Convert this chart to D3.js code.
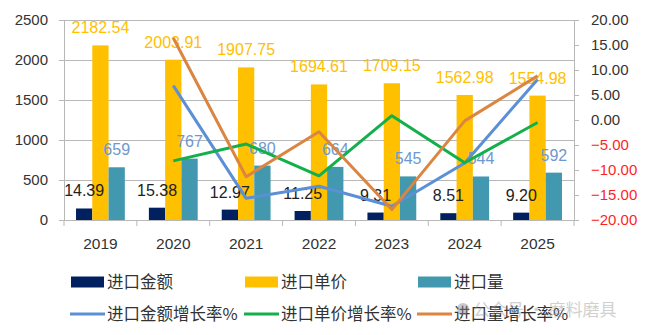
<!DOCTYPE html>
<html>
<head>
<meta charset="utf-8">
<script src="https://cdn.jsdelivr.net/npm/d3@7"></script>
<style>
  body { margin: 0; background: #fff; }
  svg { display: block; }
  text { font-family: "Liberation Sans", Arial, sans-serif; }
  .cjk { font-family: "Noto Sans CJK SC", sans-serif; }
</style>
</head>
<body>
<svg id="chart" width="647" height="335"></svg>
<script>
// data
const years = ['2019', '2020', '2021', '2022', '2023', '2024', '2025']
const amount = [14.39, 15.38, 12.97, 11.25, 9.31, 8.51, 9.20]
const unitPrice = [2182.54, 2003.91, 1907.75, 1694.61, 1709.15, 1562.98, 1554.98]
const volume = [659, 767, 680, 664, 545, 544, 592]
const amountGrowth = [null, 6.88, -15.67, -13.26, -17.24, -8.59, 8.11]
const priceGrowth = [null, -8.18, -4.80, -11.17, 0.86, -8.55, -0.51]
const volumeGrowth = [null, 16.39, -11.34, -2.35, -17.92, -0.18, 8.82]
const leftTicks = [0, 500, 1000, 1500, 2000, 2500]
const rightTicks = [-20, -15, -10, -5, 0, 5, 10, 15, 20]

// amount bars are drawn at 10x on the left axis
const AMOUNT_FACTOR = 10

const plot = {left: 64, right: 574, top: 20, bottom: 220}
const svg = d3.select('#chart')

const x0 = d3.scaleBand().domain(years).range([plot.left, plot.right])
  .paddingInner(0.33).paddingOuter(0.165)
const barKeys = ['amount', 'price', 'volume']
const x1 = d3.scaleBand().domain(barKeys).range([0, x0.bandwidth()])
const yL = d3.scaleLinear().domain([0, 2500]).range([plot.bottom, plot.top])
const yR = d3.scaleLinear().domain([-20, 20]).range([plot.bottom, plot.top])
const cx = (y) => x0(y) + x0.bandwidth() / 2

const GRID = '#b8b8b8'

// left axis + gridlines
const gl = svg.append('g')
  .attr('transform', `translate(${plot.left},0)`)
  .call(d3.axisLeft(yL).tickValues(leftTicks).tickFormat(d3.format('d'))
    .tickSizeInner(5).tickSizeOuter(0).tickPadding(11))
gl.select('.domain').attr('stroke', GRID)
gl.selectAll('.tick line').attr('stroke', GRID).attr('x2', plot.right - plot.left)
gl.selectAll('.tick line').attr('x1', -5)
gl.selectAll('text').attr('font-size', 15).attr('fill', '#333')

// right axis
const gr = svg.append('g')
  .attr('transform', `translate(${plot.right},0)`)
  .call(d3.axisRight(yR).tickValues(rightTicks).tickSizeInner(5).tickSizeOuter(0).tickPadding(12)
    .tickFormat(d3.format('.2f')))
gr.select('.domain').attr('stroke', GRID)
gr.selectAll('.tick line').attr('stroke', GRID)
gr.selectAll('text').attr('font-size', 15)
  .attr('fill', d => d < 0 ? '#ff1f1f' : '#333')

// bottom axis
const gb = svg.append('g')
  .attr('transform', `translate(0,${plot.bottom})`)
  .call(d3.axisBottom(x0).tickSize(0).tickPadding(0))
gb.select('.domain').attr('stroke', GRID)
gb.selectAll('text').attr('font-size', 15.5).attr('fill', '#333')
  .attr('dy', null).attr('y', 28.5)
// category boundary ticks
const bounds = years.map(y => x0(y) - x0.step() * x0.paddingInner() / 2)
bounds.push(plot.right)
gb.selectAll('line.sep').data(bounds).enter().append('line')
  .attr('class', 'sep')
  .attr('x1', d => d).attr('x2', d => d)
  .attr('y1', 0).attr('y2', 6)
  .attr('stroke', GRID)

// bars
const series = [
  {key: 'amount', values: amount, scale: AMOUNT_FACTOR, color: '#002060', label: '#222', fmt: d3.format('.2f')},
  {key: 'price', values: unitPrice, scale: 1, color: '#ffc000', label: '#ffc000', fmt: d3.format('.2f')},
  {key: 'volume', values: volume, scale: 1, color: '#4298ae', label: '#6e98cf', fmt: d3.format('d')}
]

series.forEach(s => {
  const g = svg.append('g').attr('class', 'bars ' + s.key)
  g.selectAll('rect')
    .data(s.values)
    .enter().append('rect')
    .attr('x', (d, i) => x0(years[i]) + x1(s.key))
    .attr('width', x1.bandwidth())
    .attr('y', d => yL(d * s.scale))
    .attr('height', d => plot.bottom - yL(d * s.scale))
    .attr('fill', s.color)
})

// bar labels
series.forEach(s => {
  svg.append('g').attr('class', 'labels ' + s.key)
    .selectAll('text')
    .data(s.values)
    .enter().append('text')
    .attr('x', (d, i) => x0(years[i]) + x1(s.key) + x1.bandwidth() / 2)
    .attr('y', d => yL(d * s.scale) - 12)
    .attr('text-anchor', 'middle')
    .attr('font-size', 16)
    .attr('fill', s.label)
    .text(d => s.fmt(d))
})

// growth lines
const lines = [
  {name: '进口金额增长率%', values: amountGrowth, color: '#5b8fd6'},
  {name: '进口单价增长率%', values: priceGrowth, color: '#12b04a'},
  {name: '进口量增长率%', values: volumeGrowth, color: '#db8540'}
]
const line = d3.line()
  .defined(d => d.v != null)
  .x(d => cx(d.year))
  .y(d => yR(d.v))

lines.forEach(l => {
  svg.append('path')
    .datum(l.values.map((v, i) => ({year: years[i], v: v})))
    .attr('fill', 'none')
    .attr('stroke', l.color)
    .attr('stroke-width', 3)
    .attr('stroke-linejoin', 'round')
    .attr('d', line)
})

// legend
const legendBars = [
  {name: '进口金额', color: '#002060'},
  {name: '进口单价', color: '#ffc000'},
  {name: '进口量', color: '#4298ae'}
]
const legendX = [71, 245, 418]

const lb = svg.append('g').attr('class', 'legend')
legendBars.forEach((d, i) => {
  lb.append('rect')
    .attr('x', legendX[i]).attr('y', 276.5)
    .attr('width', 33).attr('height', 11)
    .attr('fill', d.color)
  lb.append('text')
    .attr('class', 'cjk')
    .attr('x', legendX[i] + 36).attr('y', 288)
    .attr('font-size', 16.5).attr('fill', '#333')
    .text(d.name)
})
lines.forEach((d, i) => {
  lb.append('line')
    .attr('x1', legendX[i] - 1).attr('x2', legendX[i] + 34)
    .attr('y1', 314).attr('y2', 314)
    .attr('stroke', d.color).attr('stroke-width', 3)
  lb.append('text')
    .attr('class', 'cjk')
    .attr('x', legendX[i] + 36).attr('y', 320)
    .attr('font-size', 16.5).attr('fill', '#333')
    .text(d.name)
})

// watermark
const wm = svg.append('g').attr('opacity', 0.45)
wm.append('circle').attr('cx', 463).attr('cy', 309).attr('r', 6).attr('fill', '#888')
wm.append('text')
  .attr('class', 'cjk')
  .attr('x', 473).attr('y', 316)
  .attr('font-size', 17).attr('fill', '#999')
  .text('公众号 · 磨料磨具')
</script>
</body>
</html>
